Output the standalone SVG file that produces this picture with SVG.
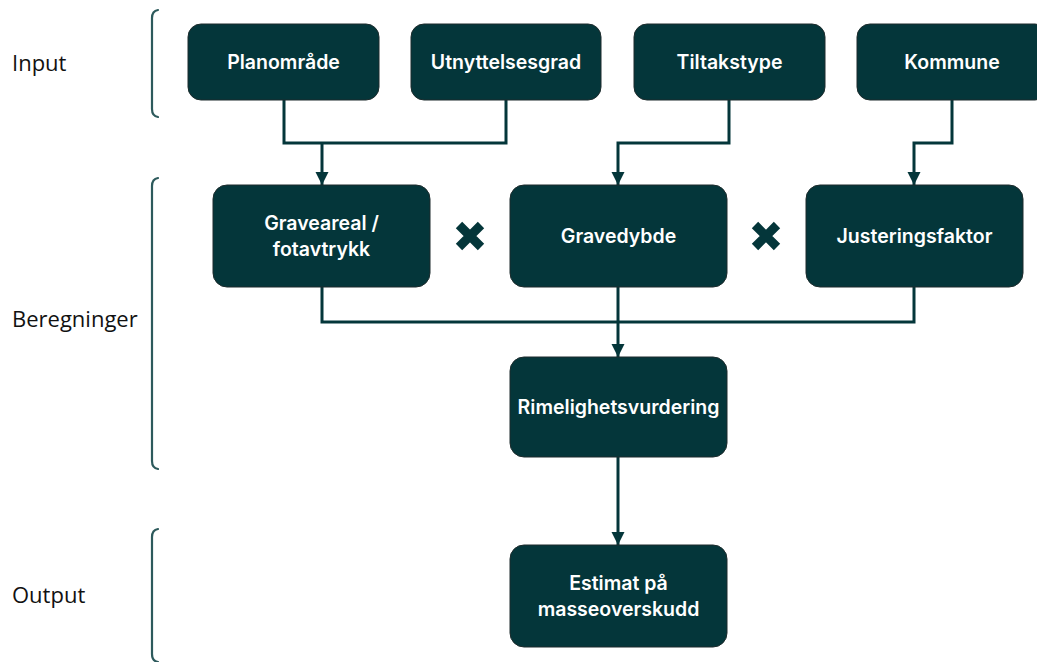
<svg xmlns="http://www.w3.org/2000/svg" width="1037" height="662" viewBox="0 0 1037 662">
<style>
.node rect{fill:#04363a;stroke:#1d2b2c;stroke-width:1}
.node text{fill:#ffffff;font-family:Inter,"Liberation Sans",Arial,sans-serif;font-weight:600;font-size:19.5px;text-anchor:middle}
.lbl{fill:#111111;font-family:"Open Sans","Liberation Sans",sans-serif;font-size:22px}
.brace{fill:none;stroke:#2d5a5c;stroke-width:2.2;stroke-linecap:round}
.conn path{fill:none;stroke:#04363a;stroke-width:3}
.mul{fill:none;stroke:#04363a;stroke-width:9}
</style>
<defs>
<marker id="arr" viewBox="0 0 10 10" refX="10" refY="5" markerWidth="4.5" markerHeight="4.5" markerUnits="strokeWidth" orient="auto">
<path d="M0,0 L10,5 L0,10 Z" fill="#04363a"/>
</marker>
</defs>
<rect width="1037" height="662" fill="#ffffff"/>
<g id="labels">
<text class="lbl" x="12" y="71">Input</text>
<text class="lbl" x="12" y="327">Beregninger</text>
<text class="lbl" x="12" y="603">Output</text>
</g>
<g id="braces">
<path class="brace" d="M158,10 Q152,11 152,18 L152,109 Q152,116 158,117"/>
<path class="brace" d="M158,178 Q152,179 152,186 L152,461 Q152,468 158,469"/>
<path class="brace" d="M158,529 Q152,530 152,537 L152,654 Q152,661 158,662"/>
</g>
<g id="connectors" class="conn">
<path d="M284,100 V143 H506 V100"/>
<path d="M322,143 V185" marker-end="url(#arr)"/>
<path d="M729,100 V143 H618 V185" marker-end="url(#arr)"/>
<path d="M952,100 V143 H914 V185" marker-end="url(#arr)"/>
<path d="M322,287 V322 H914 V287"/>
<path d="M618,287 V357" marker-end="url(#arr)"/>
<path d="M618,457 V545" marker-end="url(#arr)"/>
</g>
<g id="n-planomrade" class="node"><rect x="188" y="24" width="191" height="76" rx="13"/><text x="283.5" y="69">Planområde</text></g>
<g id="n-utnyttelsesgrad" class="node"><rect x="411" y="24" width="190" height="76" rx="13"/><text x="506" y="69">Utnyttelsesgrad</text></g>
<g id="n-tiltakstype" class="node"><rect x="634" y="24" width="191" height="76" rx="13"/><text x="729.5" y="69">Tiltakstype</text></g>
<g id="n-kommune" class="node"><rect x="857" y="24" width="191" height="76" rx="13"/><text x="952" y="69">Kommune</text></g>
<g id="n-graveareal" class="node"><rect x="213" y="185" width="217" height="102" rx="14"/><text x="321.5" y="230">Graveareal /</text><text x="321.5" y="256">fotavtrykk</text></g>
<g id="n-gravedybde" class="node"><rect x="510" y="185" width="217" height="102" rx="14"/><text x="618.5" y="243">Gravedybde</text></g>
<g id="n-justeringsfaktor" class="node"><rect x="806" y="185" width="217" height="102" rx="14"/><text x="914.5" y="243">Justeringsfaktor</text></g>
<g id="n-rimelighet" class="node"><rect x="510" y="357" width="217" height="100" rx="14"/><text x="618.5" y="414">Rimelighetsvurdering</text></g>
<g id="n-estimat" class="node"><rect x="510" y="545" width="217" height="102" rx="14"/><text x="618.5" y="590">Estimat på</text><text x="618.5" y="616">masseoverskudd</text></g>
<g id="mul1"><path class="mul" d="M459,225 L481,247 M481,225 L459,247"/></g>
<g id="mul2"><path class="mul" d="M755,225 L777,247 M777,225 L755,247"/></g>
</svg>
